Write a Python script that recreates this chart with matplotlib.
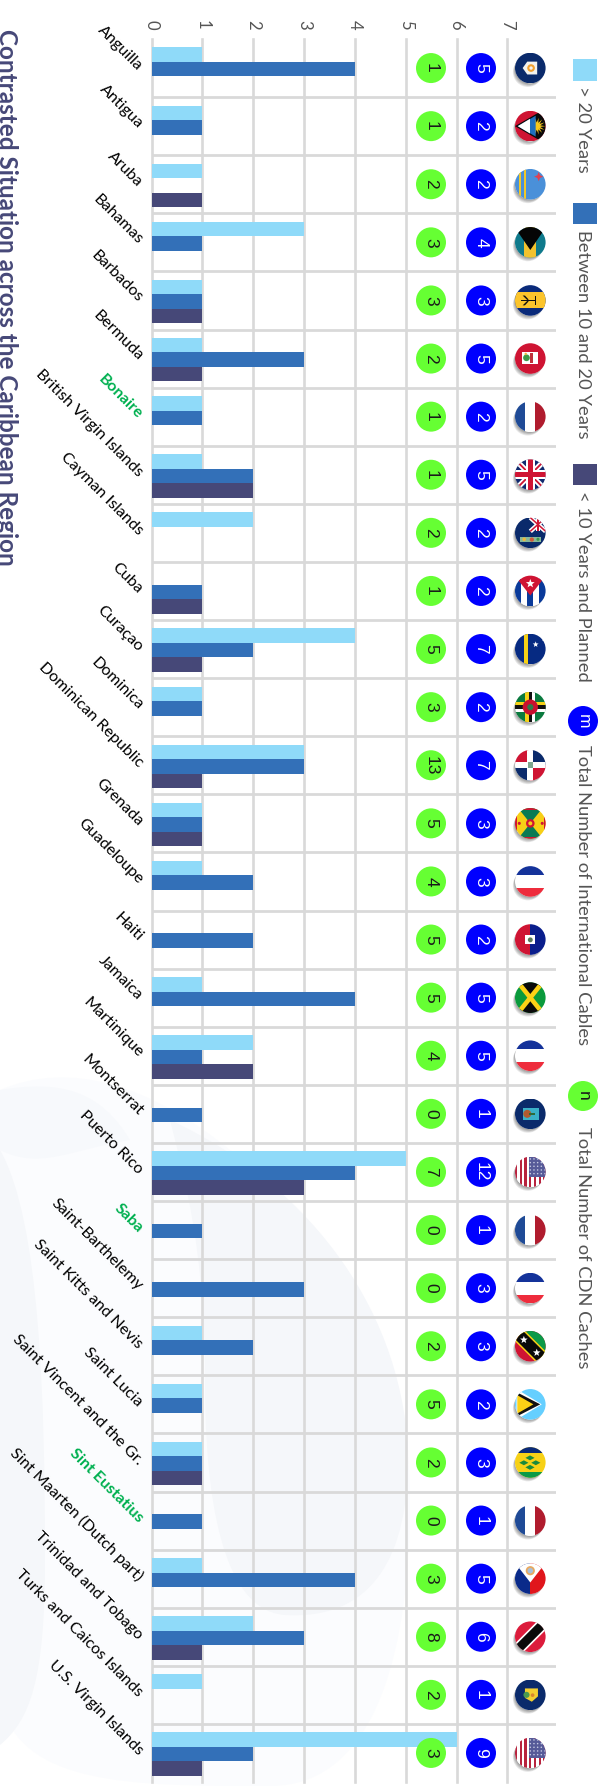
import numpy as np
from matplotlib import pyplot as plt
from matplotlib.patches import Circle, Polygon, PathPatch, Rectangle
from matplotlib.path import Path

plt.rcParams["font.family"] = ["Lato", "DejaVu Sans"]

countries = [
    "Anguilla", "Antigua", "Aruba", "Bahamas", "Barbados", "Bermuda", "Bonaire",
    "British Virgin Islands", "Cayman Islands", "Cuba", "Curaçao", "Dominica",
    "Dominican Republic", "Grenada", "Guadeloupe", "Haiti", "Jamaica", "Martinique",
    "Montserrat", "Puerto Rico", "Saba", "Saint-Barthelemy", "Saint Kitts and Nevis",
    "Saint Lucia", "Saint Vincent and the Gr.", "Sint Eustatius",
    "Sint Maarten (Dutch part)", "Trinidad and Tobago", "Turks and Caicos Islands",
    "U.S. Virgin Islands",
]
green_labels = ["Bonaire", "Saba", "Sint Eustatius"]
over_20 = [1, 1, 1, 3, 1, 1, 1, 1, 2, 0, 4, 1, 3, 1, 1, 0, 1, 2, 0, 5, 0, 0, 1, 1, 1, 0, 1, 2, 1, 6]
btw_10_20 = [4, 1, 0, 1, 1, 3, 1, 2, 0, 1, 2, 1, 3, 1, 2, 2, 4, 1, 1, 4, 1, 3, 2, 1, 1, 1, 4, 3, 0, 2]
under_10 = [0, 0, 1, 0, 1, 1, 0, 2, 0, 1, 1, 0, 1, 1, 0, 0, 0, 2, 0, 3, 0, 0, 0, 0, 1, 0, 0, 1, 0, 1]
cables = [5, 2, 2, 4, 3, 5, 2, 5, 2, 2, 7, 2, 7, 3, 3, 2, 5, 5, 1, 12, 1, 3, 3, 2, 3, 1, 5, 6, 1, 9]
caches = [1, 1, 2, 3, 3, 2, 1, 1, 2, 1, 5, 3, 13, 5, 4, 5, 5, 4, 0, 7, 0, 0, 2, 5, 2, 0, 3, 8, 2, 3]
flags = ["anguilla", "antigua", "aruba", "bahamas", "barbados", "bermuda", "france", "uk", "cayman",
         "cuba", "curacao", "dominica", "domrep", "grenada", "french_turned", "haiti", "jamaica",
         "french_turned", "montserrat", "usa", "france", "french_turned", "kitts", "lucia", "vincent",
         "france", "maarten", "trinidad", "turks", "usa"]
legend_bars = ["> 20 Years", "Between 10 and 20 Years", "< 10 Years and Planned"]
legend_cables = "Total Number of International Cables"
legend_caches = "Total Number of CDN Caches"
title = "Contrasted Situation across the Caribbean Region"

C_LIGHT = "#8fdaf9"
C_MID = "#3370b8"
C_DARK = "#464878"
C_GRID = "#d9d9d9"
C_GREEN = "#66ff33"
C_BLUE = "#0000ff"
NAVY = "#0a2a6b"

W, H = 605, 1786
fig = plt.figure(figsize=(W / 100, H / 100), dpi=100)

# full figure overlay in pixels, y going down
bg = fig.add_axes([0, 0, 1, 1], zorder=0)
bg.set_xlim(0, W)
bg.set_ylim(H, 0)
bg.axis("off")


def blob(verts, color):
    codes = [Path.MOVETO] + [Path.CURVE4] * (len(verts) - 1)
    bg.add_patch(PathPatch(Path(verts, codes), fc=color, ec="none"))


blob([(0, 1090), (70, 1060), (150, 1085), (230, 1150), (330, 1240), (410, 1340), (410, 1500),
      (410, 1640), (380, 1786), (270, 1786), (130, 1786), (20, 1786), (0, 1700), (0, 1500), (0, 1300), (0, 1090)],
     "#fbfcfe")
blob([(0, 1090), (60, 1080), (100, 1090), (130, 1140), (70, 1150), (40, 1170), (0, 1150), (0, 1130), (0, 1110), (0, 1090)],
     "#f7f9fc")
blob([(0, 1150), (40, 1220), (45, 1400), (45, 1560), (45, 1680), (30, 1720), (0, 1745), (0, 1600), (0, 1400), (0, 1150)],
     "#f5f7fa")
blob([(170, 1120), (300, 1180), (400, 1300), (408, 1450), (410, 1560), (370, 1620), (285, 1615),
      (210, 1610), (205, 1450), (205, 1380), (205, 1250), (185, 1180), (170, 1120)],
     "#f5f7fa")

# chart area, the whole thing is drawn turned a quarter clockwise
ax_left, ax_right, ax_top, ax_bot = 151.5, 556, 39, 1782
ax = fig.add_axes([ax_left / W, 1 - ax_bot / H, (ax_right - ax_left) / W, (ax_bot - ax_top) / H], zorder=1)
ax.patch.set_alpha(0)
ax.set_xlim(0, (ax_right - ax_left) / 50.85)
ax.set_ylim(len(countries) - 0.5, -0.5)
y = np.arange(len(countries))
h = 0.25
ax.barh(y - h + 0.02, over_20, h, color=C_LIGHT, zorder=3)
ax.barh(y + 0.02, btw_10_20, h, color=C_MID, zorder=3)
ax.barh(y + h + 0.02, under_10, h, color=C_DARK, zorder=3)

for v in range(8):
    ax.plot([v, v], [-0.5, len(countries) - 0.5], color=C_GRID, lw=1.9, zorder=1, clip_on=False)
for r in y[:-1]:
    ax.axhline(r + 0.5, color=C_GRID, lw=2, zorder=1)

for s in ax.spines.values():
    s.set_visible(False)
ax.xaxis.tick_top()
ax.set_xticks(range(8))
ax.set_xticklabels(range(8), rotation=-90, fontsize=12, color="#555555")
ax.tick_params(axis="x", length=0, pad=7)
ax.set_yticks(y)
ax.set_yticklabels(countries, rotation=-45, ha="right", va="center", rotation_mode="anchor", fontsize=11.6)
ax.tick_params(axis="y", length=0, pad=8)
for lab in ax.get_yticklabels():
    if lab.get_text() in green_labels:
        lab.set_color("#00b050")
        lab.set_fontweight("bold")

# cable and cache counts sit on the chart as badges
top = fig.add_axes([0, 0, 1, 1], zorder=2)
top.set_xlim(0, W)
top.set_ylim(H, 0)
top.axis("off")
row_h = (ax_bot - ax_top) / len(countries)


def row_y(i):
    return ax_top + row_h * (i + 0.5)


def badge(cx, cy, txt, color, tc):
    top.add_patch(Circle((cx, cy), 15, fc=color, ec="none"))
    top.text(cx, cy, txt, rotation=-90, ha="center", va="center", color=tc, fontsize=12.5,
             family=["Liberation Sans"])


# flags, u goes right and v goes down, both in flag radii
class Flag:
    def __init__(self, cx, cy, r=15.3):
        self.cx, self.cy, self.r = cx, cy, r
        # soft shadow falling to the lower left
        for k in range(1, 6):
            top.add_patch(Circle((cx - 0.5 * k, cy + 0.8 * k), r - 0.4, fc="black", ec="none", alpha=0.09))
        self.clip = Circle((cx, cy), r, fc="white", ec="none")
        top.add_patch(self.clip)

    def poly(self, pts, color):
        pts = [(self.cx + u * self.r, self.cy + v * self.r) for u, v in pts]
        p = Polygon(pts, closed=True, fc=color, ec="none")
        top.add_patch(p)
        p.set_clip_path(self.clip)

    def rect(self, u0, v0, u1, v1, color):
        self.poly([(u0, v0), (u1, v0), (u1, v1), (u0, v1)], color)

    def disc(self, u, v, rad, color):
        c = Circle((self.cx + u * self.r, self.cy + v * self.r), rad * self.r, fc=color, ec="none")
        top.add_patch(c)
        c.set_clip_path(self.clip)

    def star(self, u, v, rad, color, n=5, start=-np.pi / 2):
        a = start + np.arange(2 * n) * np.pi / n
        rr = np.where(np.arange(2 * n) % 2 == 0, rad, rad * 0.42)
        self.poly(list(zip(u + rr * np.cos(a), v + rr * np.sin(a))), color)

    def band(self, p0, p1, w, color):
        p0, p1 = np.array(p0, float), np.array(p1, float)
        d = p1 - p0
        n = np.array([-d[1], d[0]]) / np.hypot(*d) * w / 2
        self.poly([p0 + n, p1 + n, p1 - n, p0 - n], color)


def draw_anguilla(f):
    f.rect(-1, -1, 1, 1, NAVY)
    f.poly([(-0.5, 0), (-0.2, -0.42), (0.45, -0.42), (0.45, 0.42), (-0.2, 0.42)], "#f2f2ee")
    f.disc(0.05, 0, 0.25, "#f0a030")
    f.disc(0.05, 0, 0.11, "#f2f2ee")


def draw_antigua(f):
    f.rect(-1, -1, 1, 1, "#cf1433")
    f.poly([(-1, 0), (1, -1.15), (1, 1.15)], "#0a0a0a")
    f.star(0.42, 0, 0.56, "#f7c71c", n=14, start=0)
    f.poly([(-0.82, 0), (0.35, -0.68), (0.35, 0.68)], "#1f6fc0")
    f.poly([(-0.82, 0), (-0.02, -0.48), (-0.02, 0.48)], "white")


def draw_aruba(f):
    f.rect(-1, -1, 1, 1, "#4a90d9")
    f.rect(-0.72, -1, -0.6, 1, "#f0c828")
    f.rect(-0.38, -1, -0.26, 1, "#f0c828")
    f.star(0.55, -0.5, 0.3, "#e04050", n=4)


def draw_bahamas(f):
    f.rect(-1, -1, 1, 1, "#0f7a8c")
    f.rect(-0.4, -1, 0.4, 1, "#f2c22e")
    f.poly([(-1.1, -1.1), (1.1, -1.1), (0, 0.5)], "#050505")


def draw_barbados(f):
    f.rect(-1, -1, 1, 1, "#0a2a7a")
    f.rect(-1, -0.52, 1, 0.52, "#fbc42c")
    f.rect(-0.6, -0.05, 0.4, 0.05, "#111111")
    f.rect(0.28, -0.28, 0.4, 0.28, "#111111")
    f.poly([(-0.35, -0.32), (-0.1, -0.05), (-0.2, -0.03), (-0.5, -0.32)], "#111111")
    f.poly([(-0.35, 0.32), (-0.1, 0.05), (-0.2, 0.03), (-0.5, 0.32)], "#111111")


def draw_bermuda(f):
    f.rect(-1, -1, 1, 1, "#cf1433")
    f.rect(-0.55, -0.42, 0.5, 0.35, "white")
    f.disc(-0.25, -0.05, 0.22, "#3d9a4a")
    f.rect(-0.05, -0.35, 0.15, 0.3, "#c0303a")
    f.disc(-0.3, -0.3, 0.08, "#e8b840")


def draw_france(f):
    f.rect(-1, -1, -0.33, 1, "#1f4a96")
    f.rect(-0.33, -1, 0.33, 1, "white")
    f.rect(0.33, -1, 1, 1, "#b01c2e")


def draw_uk(f):
    f.rect(-1, -1, 1, 1, "#10296e")
    f.band((-1, -1), (1, 1), 0.36, "white")
    f.band((-1, 1), (1, -1), 0.36, "white")
    f.band((-1, -1), (1, 1), 0.12, "#cf1433")
    f.band((-1, 1), (1, -1), 0.12, "#cf1433")
    f.rect(-1, -0.28, 1, 0.28, "white")
    f.rect(-0.28, -1, 0.28, 1, "white")
    f.rect(-1, -0.17, 1, 0.17, "#cf1433")
    f.rect(-0.17, -1, 0.17, 1, "#cf1433")


def draw_cayman(f):
    f.rect(-1, -1, 1, 1, NAVY)
    f.band((0, -1), (1, -0.1), 0.3, "white")
    f.band((0, -0.1), (1, -1), 0.3, "white")
    f.rect(0.38, -1, 0.62, -0.1, "white")
    f.band((0, -1), (1, -0.1), 0.1, "#cf1433")
    f.band((0, -0.1), (1, -1), 0.1, "#cf1433")
    f.rect(0.44, -1, 0.56, -0.1, "#cf1433")
    f.rect(-0.65, 0.25, 0.7, 0.62, "#88b89a")
    f.disc(-0.4, 0.42, 0.12, "#e8b840")
    f.disc(0.1, 0.44, 0.14, "#d05a3a")
    f.disc(0.5, 0.42, 0.1, "#3d9a4a")


def draw_cuba(f):
    for u0, c in zip([-1, -0.6, -0.2, 0.2, 0.6], ["#0a3a9a", "white", "#0a3a9a", "white", "#0a3a9a"]):
        f.rect(u0, -1, u0 + 0.4, 1, c)
    f.poly([(-1.1, -1.1), (1.1, -1.1), (0, 0.3)], "#cf1433")
    f.star(0, -0.48, 0.3, "white")


def draw_curacao(f):
    f.rect(-1, -1, 1, 1, "#062a82")
    f.rect(-0.4, -1, -0.17, 1, "#f7d116")
    f.star(0.35, -0.3, 0.2, "white")
    f.star(0.85, -0.65, 0.14, "white")


def draw_dominica(f):
    f.rect(-1, -1, 1, 1, "#0a7a3e")
    for off, c in [(-0.22, "#f7d116"), (0, "#111111"), (0.22, "white")]:
        f.rect(-1, off - 0.11, 1, off + 0.11, c)
        f.rect(off - 0.11, -1, off + 0.11, 1, c)
    f.disc(0, 0, 0.5, "#c8102e")
    f.disc(0, 0, 0.2, "#2d7a4a")


def draw_domrep(f):
    f.rect(-1, -1, 0, 0, "#cf1433")
    f.rect(0, -1, 1, 0, "#0a2a6b")
    f.rect(-1, 0, 0, 1, "#0a2a6b")
    f.rect(0, 0, 1, 1, "#cf1433")
    f.rect(-1, -0.2, 1, 0.2, "white")
    f.rect(-0.2, -1, 0.2, 1, "white")
    f.rect(-0.18, -0.18, 0.18, 0.18, "#7ea890")


def draw_grenada(f):
    f.rect(-1, -1, 1, 1, "#f7cf16")
    f.poly([(-0.8, -1), (0.8, -1), (0, 0)], "#0a7a54")
    f.poly([(-0.8, 1), (0.8, 1), (0, 0)], "#0a7a54")
    f.rect(-1, -1, -0.88, 1, "#cf1433")
    f.rect(0.88, -1, 1, 1, "#cf1433")
    f.rect(-1, -1, 1, -0.9, "#cf1433")
    f.rect(-1, 0.9, 1, 1, "#cf1433")
    f.disc(0, 0, 0.28, "#cf1433")
    f.disc(0, 0, 0.13, "#f7cf16")
    f.disc(-0.72, 0, 0.1, "#cf1433")
    f.disc(0.78, 0, 0.1, "#cf1433")


def draw_french_turned(f):
    f.rect(-1, -1, 1, -0.42, "#14329a")
    f.rect(-1, 0.42, 1, 1, "#ee2c3c")


def draw_haiti(f):
    f.rect(-1, -1, 0, 1, "#cf1433")
    f.rect(0, -1, 1, 1, "#0a1e8c")
    f.rect(-0.32, -0.3, 0.3, 0.3, "white")
    f.disc(0, 0.02, 0.16, "#5a7a58")


def draw_jamaica(f):
    f.rect(-1, -1, 1, 1, "#0a9a3c")
    f.poly([(-1, -1.1), (1, -1.1), (0, 0)], "#0a0a0a")
    f.poly([(-1, 1.1), (1, 1.1), (0, 0)], "#0a0a0a")
    f.band((-0.8, -1), (0.8, 1), 0.3, "#fcd116")
    f.band((-0.8, 1), (0.8, -1), 0.3, "#fcd116")


def draw_montserrat(f):
    f.rect(-1, -1, 1, 1, NAVY)
    f.rect(-0.5, -0.4, 0.55, 0.4, "#3ab0c8")
    f.disc(-0.2, 0, 0.26, "#b05a30")
    f.rect(-0.1, -0.05, 0.3, 0.07, "#2d6a3a")


def draw_usa(f):
    for k, u0 in enumerate(np.linspace(-1, 1, 14)[:-1]):
        f.rect(u0, -1, u0 + 2 / 13, 1, "#b8233e" if k % 2 == 0 else "white")
    f.rect(-0.1, -1, 1, 0.3, "#565a98")
    for u in np.arange(0, 1, 0.24):
        for v in np.arange(-0.85, 0.25, 0.24):
            f.disc(u, v, 0.05, "#c8cbe4")


def draw_kitts(f):
    f.rect(-1, -1, 1, 1, "#cf1433")
    f.poly([(-1, -1), (1, -1), (1, 1)], "#0a9a48")
    f.band((-1, -1), (1, 1), 0.95, "#f7d116")
    f.band((-1, -1), (1, 1), 0.75, "#0a0a0a")
    f.star(-0.42, -0.42, 0.26, "white")
    f.star(0.42, 0.42, 0.26, "white")


def draw_lucia(f):
    f.rect(-1, -1, 1, 1, "#65cfff")
    f.poly([(-0.9, -1), (-0.9, 1), (0.75, 0)], "white")
    f.poly([(-0.8, -0.75), (-0.8, 0.75), (0.65, 0)], "#111111")
    f.poly([(-0.85, -0.6), (-0.85, 0.6), (0.2, 0)], "#fcd116")


def draw_vincent(f):
    f.rect(-1, -1, 1, 1, "#f7d116")
    f.rect(-1, -1, 1, -0.62, "#0a2a7a")
    f.rect(-1, 0.62, 1, 1, "#0a9a48")
    for u, v in [(-0.02, -0.3), (-0.42, 0.02), (0.36, 0.02), (-0.02, 0.32)]:
        f.poly([(u - 0.3, v), (u, v - 0.16), (u + 0.3, v), (u, v + 0.16)], "#1a8a3c")


def draw_maarten(f):
    f.rect(-1, -1, 0, 1, "#0a2a8a")
    f.rect(0, -1, 1, 1, "#e0161c")
    f.poly([(-1.05, -1.1), (1.05, -1.1), (0, 0.25)], "white")
    f.disc(0, -0.52, 0.3, "#e8a860")
    f.disc(0, -0.52, 0.18, "#a8c0d8")


def draw_trinidad(f):
    f.rect(-1, -1, 1, 1, "#dc1c3c")
    f.band((-1, 1), (1, -1), 0.8, "white")
    f.band((-1, 1), (1, -1), 0.58, "#0a0a0a")


def draw_turks(f):
    f.rect(-1, -1, 1, 1, NAVY)
    f.poly([(-0.35, -0.42), (0.5, -0.42), (0.5, 0.1), (0.1, 0.45), (-0.35, 0.2)], "#f2cf30")
    f.disc(-0.25, 0, 0.2, "#4a9a50")
    f.disc(0.15, 0.02, 0.12, "#d8862c")


for i in y:
    badge(431, row_y(i), str(caches[i]), C_GREEN, "#1a1a1a")
    badge(481, row_y(i), str(cables[i]), C_BLUE, "white")
    globals()["draw_" + flags[i]](Flag(530.3, row_y(i)))

# legend
for name, col, y0, y1, ty in zip(legend_bars, [C_LIGHT, C_MID, C_DARK], [59, 203, 464], [81, 224, 485], [86, 230, 491]):
    top.add_patch(Rectangle((573, y0), 24, y1 - y0, fc=col, ec="none"))
    top.text(583, ty, name, rotation=-90, ha="center", va="top", fontsize=13.2, color="#555555")
badge(583, 721, "m", C_BLUE, "white")
top.text(583, 745, legend_cables, rotation=-90, ha="center", va="top", fontsize=13.2, color="#555555")
badge(583, 1096, "n", C_GREEN, "#1a1a1a")
top.text(583, 1127, legend_caches, rotation=-90, ha="center", va="top", fontsize=13.2, color="#555555")

top.text(6, 29, title, rotation=-90, ha="center", va="top", fontsize=17.5, fontweight="bold", color=C_DARK)

fig.savefig("out.png", dpi=100)
